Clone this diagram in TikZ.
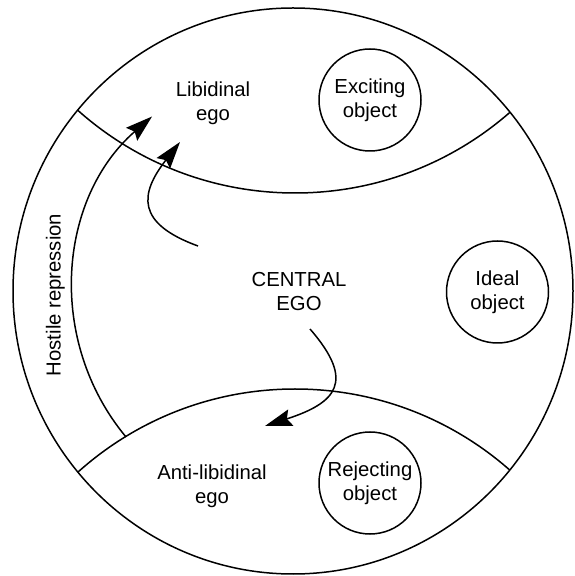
\documentclass[tikz,border=0pt]{standalone}
\usepackage{fontspec}
\setmainfont{Liberation Sans}
\usetikzlibrary{arrows.meta}

\begin{document}
\begin{tikzpicture}[
  x=1pt, y=1pt,
  font=\fontsize{20.3}{24}\selectfont,
  line width=1.5pt,
  obj/.style={circle, draw, minimum size=102pt, inner sep=0pt, align=center},
  lbl/.style={align=center, inner sep=0pt},
  push/.style={-{Stealth[length=27pt, width=17pt, inset=4pt]}, line width=1.5pt},
]
\useasboundingbox (0,0) rectangle (575,576);

% Psyche and the two lens arcs
\coordinate (psyche) at (293,285);
\draw (psyche) ellipse [x radius=280, y radius=283];
\begin{scope}
  \clip (psyche) ellipse [x radius=280, y radius=283];
  \draw (295,709.6) circle [radius=326.6];
  \draw (295,-138) circle [radius=325];
\end{scope}

% Egos
\node[lbl] (libego) at (213,472.3) {Libidinal\\ego};
\node[lbl] (central) at (299,284.6) {CENTRAL\\EGO};
\node[lbl] (antiego) at (212,90.2) {Anti-libidinal\\ego};
\node[lbl, rotate=90, anchor=base] (hostile) at (60.5,281) {Hostile repression};

% Objects
\node[obj] (exciting) at (370,476) {Exciting\\object};
\node[obj] (ideal) at (497.5,284) {Ideal\\object};
\node[obj] (rejecting) at (370,93) {Rejecting\\object};

% Arrows
\coordinate (hostS) at (126,139);
\coordinate (libS) at (198,330);
\coordinate (libT) at (180,434);
\coordinate (cenS) at (310,247);
\coordinate (antiT) at (265,150);
\draw[push] (hostS) arc [start angle=219.7, end angle=131, radius=230];
\draw[push] (libS) .. controls +(160:66) and +(232:66) .. (libT);
\draw[push] (cenS) .. controls +(-49:70) and +(18:75) .. (antiT);

\end{tikzpicture}
\end{document}
